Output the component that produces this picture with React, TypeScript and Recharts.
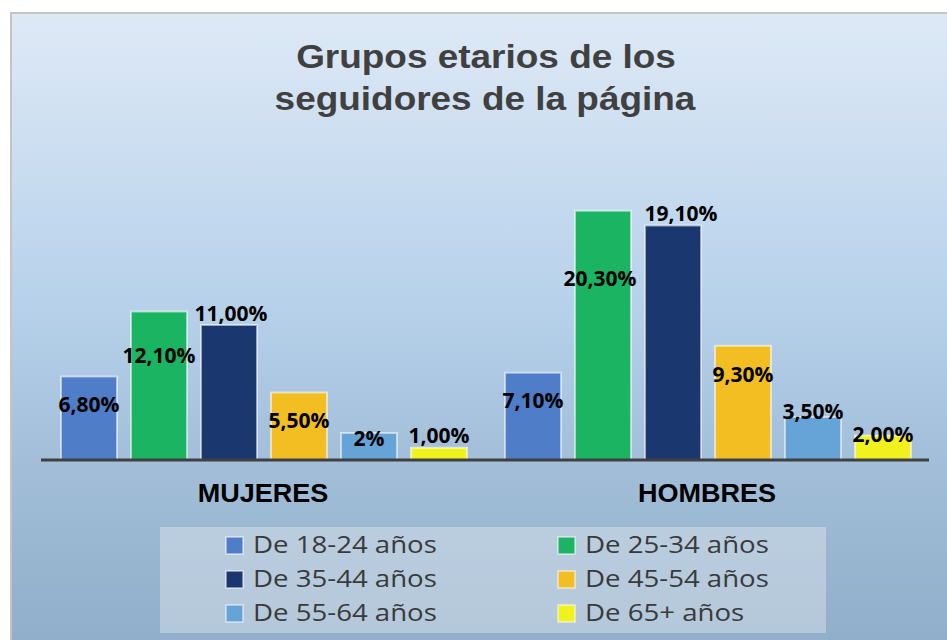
import React from 'react';
import { BarChart, Bar, XAxis, YAxis, Legend } from 'recharts';

const categories = ['MUJERES', 'HOMBRES'];
const ageGroups = [
  'De 18-24 años',
  'De 25-34 años',
  'De 35-44 años',
  'De 45-54 años',
  'De 55-64 años',
  'De 65+ años',
];
const mujeres = [6.8, 12.1, 11.0, 5.5, 2.2, 1.0];
const hombres = [7.1, 20.3, 19.1, 9.3, 3.5, 2.0];
const mujeresLabels = ['6,80%', '12,10%', '11,00%', '5,50%', '2%', '1,00%'];
const hombresLabels = ['7,10%', '20,30%', '19,10%', '9,30%', '3,50%', '2,00%'];

const COLORS = ['#4f7dc8', '#1bb463', '#1a3770', '#f2be22', '#66a3d7', '#f1f11e'];

// where each value label sits, relative to the top of its bar (text centre)
const LABEL_DY = [[28, 28], [44, 68], [-12, -12], [28, 29], [5, -6], [-12, -1]];
const LABEL_DX = [[0, 0], [0, -3], [2, 8], [0, 0], [0, 0], [0, 0]];

const seriesByCategory = [mujeres, hombres];
const labelsByCategory = [mujeresLabels, hombresLabels];

const data = categories.map((cat, c) => {
  const row: Record<string, string | number> = { cat };
  ageGroups.forEach((_, s) => {
    row[`s${s}`] = seriesByCategory[c][s];
  });
  return row;
});

const makeLabel = (s: number) => (props: any) => {
  const x = Number(props.x);
  const y = Number(props.y);
  const width = Number(props.width);
  const index = props.index as number;
  return (
    <text
      x={x + width / 2 + LABEL_DX[s][index]}
      y={y + LABEL_DY[s][index] + 7.5}
      textAnchor="middle"
      fontFamily="'Open Sans', sans-serif"
      fontWeight={700}
      fontSize={21}
      fill="#000"
    >
      {labelsByCategory[index][s]}
    </text>
  );
};

function CategoryTick({ x, y, payload }: any) {
  return (
    <text
      transform={`translate(${x},${y + 42}) scale(1.04,1)`}
      textAnchor="middle"
      fontFamily="'Liberation Sans', Arial, sans-serif"
      fontWeight={700}
      fontSize={26}
      fill="#000"
    >
      {payload.value}
    </text>
  );
}

function LegendBox({ payload }: any) {
  return (
    <div style={{ width: 666, height: 106, background: 'rgba(232,237,242,0.4)' }}>
      <svg width={666} height={106} style={{ display: 'block' }}>
        {(payload || []).map((entry: any, i: number) => {
          const col = i % 2;
          const row = Math.floor(i / 2);
          const sx = 66 + col * 332;
          const cy = 18.5 + row * 34;
          return (
            <g key={entry.value}>
              <rect
                x={sx}
                y={cy - 8.5}
                width={17}
                height={17}
                fill={entry.color}
                stroke="rgba(255,255,255,0.6)"
                strokeWidth={1.5}
              />
              <text
                transform={`translate(${sx + 27},${cy + 7.2}) scale(1.18,1)`}
                fontFamily="'Open Sans', sans-serif"
                fontSize={23.4}
                fill="#3a3a3a"
              >
                {entry.value}
              </text>
            </g>
          );
        })}
      </svg>
    </div>
  );
}

export default function App() {
  return (
    <div
      style={{
        position: 'absolute',
        left: 0,
        top: 0,
        width: 947,
        height: 640,
        overflow: 'hidden',
        background: '#fff',
      }}
    >
      <div
        style={{
          position: 'absolute',
          left: 10,
          top: 12,
          width: 937,
          height: 628,
          boxSizing: 'border-box',
          borderLeft: '2px solid #c4c4c4',
          borderTop: '2px solid #c4c4c4',
          background: 'linear-gradient(to bottom, #dee9f6 0%, #b8d2eb 45%, #a3bfda 70%, #91afca 100%)',
        }}
      />
      <svg
        width={947}
        height={130}
        style={{ position: 'absolute', left: 0, top: 0 }}
      >
        <text
          transform="translate(486,68) scale(1.12,1)"
          textAnchor="middle"
          fontFamily="'Liberation Sans', Arial, sans-serif"
          fontWeight={700}
          fontSize={33}
          fill="#404040"
        >
          Grupos etarios de los
        </text>
        <text
          transform="translate(485,110) scale(1.12,1)"
          textAnchor="middle"
          fontFamily="'Liberation Sans', Arial, sans-serif"
          fontWeight={700}
          fontSize={33}
          fill="#404040"
        >
          seguidores de la página
        </text>
      </svg>
      <div style={{ position: 'absolute', left: 0, top: 0 }}>
        <BarChart
          width={947}
          height={640}
          data={data}
          margin={{ top: 190, right: 18, bottom: 150, left: 41 }}
          barCategoryGap={20}
          barGap={14}
        >
          <XAxis
            dataKey="cat"
            axisLine={{ stroke: '#404040', strokeWidth: 3 }}
            tickLine={false}
            tickSize={0}
            tickMargin={0}
            height={30}
            interval={0}
            tick={<CategoryTick />}
          />
          <YAxis hide domain={[0, 22]} />
          <Legend
            verticalAlign="middle"
            layout="horizontal"
            wrapperStyle={{ left: 160, top: 527, width: 666, height: 106 }}
            content={<LegendBox />}
          />
          {ageGroups.map((name, s) => (
            <Bar
              key={name}
              name={name}
              dataKey={`s${s}`}
              fill={COLORS[s]}
              stroke="rgba(255,255,255,0.55)"
              strokeWidth={2}
              isAnimationActive={false}
              label={makeLabel(s)}
            />
          ))}
        </BarChart>
      </div>
    </div>
  );
}
